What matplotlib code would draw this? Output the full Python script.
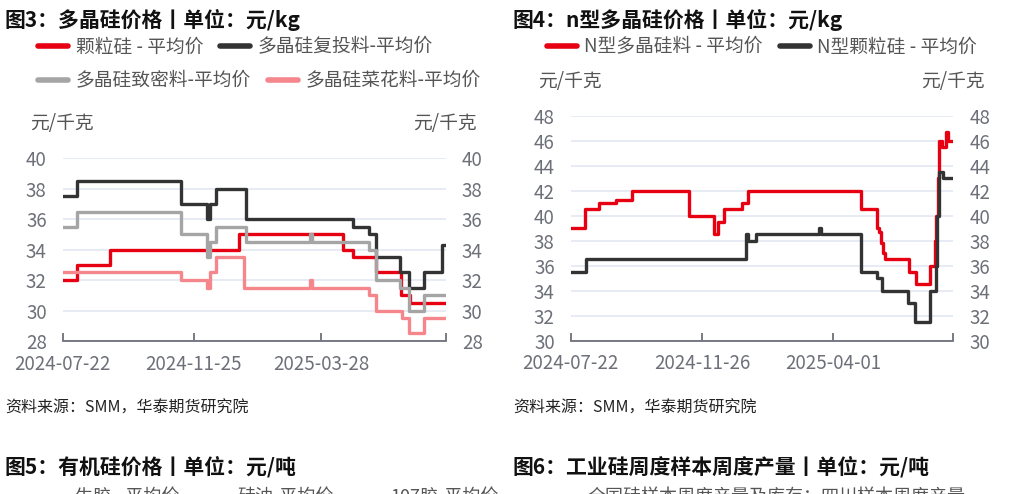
import matplotlib
matplotlib.use('Agg')
import matplotlib.pyplot as plt
import matplotlib.dates as mdates
import pandas as pd

plt.rcParams['font.family'] = ['Noto Sans CJK SC', 'DejaVu Sans']

# ---- 图3 多晶硅价格 (元/kg), step data: date where a new price starts ----
end_date_3 = '2025-07-26'
granular_dates = ['2024-07-22', '2024-08-05', '2024-09-06', '2025-01-08', '2025-04-18',
                  '2025-04-27', '2025-05-20', '2025-06-13', '2025-06-21']
granular_vals = [32, 33, 34, 35, 34, 33.5, 32.5, 31, 30.5]

recharge_dates = ['2024-07-22', '2024-08-05', '2024-11-13', '2024-12-08', '2024-12-11',
                  '2024-12-17', '2025-01-14', '2025-04-27', '2025-05-13', '2025-05-20',
                  '2025-06-12', '2025-06-20', '2025-07-05', '2025-07-22']
recharge_vals = [37.5, 38.5, 37, 36, 37, 38, 36, 35.5, 35, 33.5, 32.5, 31.5, 32.5, 34.3]

dense_dates = ['2024-07-22', '2024-08-05', '2024-11-13', '2024-12-08', '2024-12-11',
               '2024-12-17', '2025-01-14', '2025-03-17', '2025-03-19', '2025-05-13',
               '2025-05-20', '2025-06-12', '2025-06-20', '2025-07-05']
dense_vals = [35.5, 36.5, 35, 33.5, 34.5, 35.5, 34.5, 35, 34.5, 34, 32, 31.5, 30, 31]

cauliflower_dates = ['2024-07-22', '2024-11-13', '2024-12-08', '2024-12-11', '2024-12-17',
                     '2025-01-13', '2025-03-17', '2025-03-19', '2025-05-13', '2025-05-20',
                     '2025-06-14', '2025-06-20', '2025-07-05']
cauliflower_vals = [32.5, 32, 31.5, 32.5, 33.5, 31.5, 32, 31.5, 31, 30, 29.5, 28.5, 29.5]

ticks_3 = ['2024-07-22', '2024-11-25', '2025-03-28']

# ---- 图4 n型多晶硅价格 (元/kg) ----
end_date_4 = '2025-07-26'
n_poly_dates = ['2024-07-22', '2024-08-05', '2024-08-18', '2024-09-04', '2024-09-19',
                '2024-11-13', '2024-12-07', '2024-12-11', '2024-12-17', '2025-01-03',
                '2025-01-09', '2025-04-28', '2025-05-13', '2025-05-15', '2025-05-17',
                '2025-05-19', '2025-05-21', '2025-06-13', '2025-06-20', '2025-07-04',
                '2025-07-08', '2025-07-09', '2025-07-11', '2025-07-12', '2025-07-15',
                '2025-07-19', '2025-07-21']
n_poly_vals = [39, 40.5, 41, 41.25, 42, 40, 38.5, 39.5, 40.5, 41, 42, 40.5, 39, 38.7, 37.8,
               37, 36.5, 35.5, 34.5, 36, 38, 40, 43, 46, 45.5, 46.7, 46]

n_gran_dates = ['2024-07-22', '2024-08-06', '2025-01-07', '2025-01-09', '2025-01-17',
                '2025-03-18', '2025-03-20', '2025-04-28', '2025-05-13', '2025-05-18',
                '2025-06-12', '2025-06-19', '2025-07-04', '2025-07-09', '2025-07-10',
                '2025-07-12', '2025-07-16']
n_gran_vals = [35.5, 36.5, 38.5, 38, 38.5, 39, 38.5, 35.5, 35, 34, 33, 31.5, 34, 36, 40,
               43.5, 43]

ticks_4 = ['2024-07-22', '2024-11-26', '2025-04-01']

TICK_COLOR = '#6E7079'
GRID_COLOR = '#E0E6F1'
LW = 2.4


def step_series(dates, vals, end):
    x = pd.to_datetime(dates + [end])
    y = vals + [vals[-1]]
    return x, y


def style_axis(ax, start, end, ticks, ylim, ystep):
    ax.set_xlim(pd.Timestamp(start), pd.Timestamp(end))
    ax.set_ylim(*ylim)
    ax.set_yticks(range(ylim[0], ylim[1] + 1, ystep))
    ax.grid(axis='y', color=GRID_COLOR, lw=1.1)
    ax.set_axisbelow(True)
    for s in ['top', 'left', 'right']:
        ax.spines[s].set_visible(False)
    ax.spines['bottom'].set_color(TICK_COLOR)
    ax.spines['bottom'].set_linewidth(1.3)
    ax.set_xticks(pd.to_datetime(ticks))
    ax.xaxis.set_major_formatter(mdates.DateFormatter('%Y-%m-%d'))
    ax.set_xticks([pd.Timestamp(end)], minor=True)
    ax.tick_params(axis='x', which='both', direction='in', length=6, width=1.3,
                   color=TICK_COLOR, labelcolor=TICK_COLOR, labelsize=13.5, pad=9)
    ax.tick_params(axis='y', left=False, right=False, labelleft=True, labelright=True,
                   labelcolor=TICK_COLOR, labelsize=13.5, pad=8)


fig = plt.figure(figsize=(10.26, 4.94), dpi=100)
W, H = 1026, 494

# ----- left chart -----
ax1 = fig.add_axes([62.7 / W, 1 - 341 / H, (446 - 62.7) / W, (341 - 158.3) / H])
l1, = ax1.plot(*step_series(granular_dates, granular_vals, end_date_3), drawstyle='steps-post',
               color='#E60012', lw=LW, label='颗粒硅 - 平均价')
l2, = ax1.plot(*step_series(recharge_dates, recharge_vals, end_date_3), drawstyle='steps-post',
               color='#333333', lw=LW, label='多晶硅复投料-平均价')
l3, = ax1.plot(*step_series(dense_dates, dense_vals, end_date_3), drawstyle='steps-post',
               color='#A5A5A5', lw=LW, label='多晶硅致密料-平均价')
l4, = ax1.plot(*step_series(cauliflower_dates, cauliflower_vals, end_date_3), drawstyle='steps-post',
               color='#F4868C', lw=LW, label='多晶硅菜花料-平均价')
style_axis(ax1, '2024-07-22', end_date_3, ticks_3, (28, 40), 2)

# ----- right chart -----
ax2 = fig.add_axes([570.7 / W, 1 - 340.7 / H, (953.3 - 570.7) / W, (340.7 - 115.7) / H])
r1, = ax2.plot(*step_series(n_poly_dates, n_poly_vals, end_date_4), drawstyle='steps-post',
               color='#E60012', lw=LW, label='N型多晶硅料 - 平均价')
r2, = ax2.plot(*step_series(n_gran_dates, n_gran_vals, end_date_4), drawstyle='steps-post',
               color='#333333', lw=LW, label='N型颗粒硅 - 平均价')
style_axis(ax2, '2024-07-22', end_date_4, ticks_4, (30, 48), 2)

# legends (one per row, rows are not column-aligned in the original)
leg_kw = dict(loc='center left', frameon=False, fontsize=13.5, handlelength=1.6,
              handletextpad=0.4, columnspacing=0.9, borderpad=0, borderaxespad=0,
              labelcolor='#555555')
for handles, pos in [([l1, l2], (38, 47)), ([l3, l4], (38, 81)), ([r1, r2], (547, 47))]:
    lg = fig.legend(handles=handles, ncol=len(handles),
                    bbox_to_anchor=(pos[0] / W, 1 - pos[1] / H), **leg_kw)
    for h in lg.legend_handles:
        h.set_linewidth(4)
        h.set_solid_capstyle('round')

# titles and notes
title_kw = dict(fontsize=15, fontweight='bold', color='#111111', va='center', ha='left')
fig.text(5 / W, 1 - 20 / H, '图3：多晶硅价格丨单位：元/kg', **title_kw)
fig.text(513 / W, 1 - 20 / H, '图4：n型多晶硅价格丨单位：元/kg', **title_kw)
fig.text(5 / W, 1 - 467 / H, '图5：有机硅价格丨单位：元/吨', **title_kw)
fig.text(513 / W, 1 - 467 / H, '图6：工业硅周度样本周度产量丨单位：元/吨', **title_kw)

unit_kw = dict(fontsize=13.5, color='#555555', va='center')
fig.text(30 / W, 1 - 123 / H, '元/千克', ha='left', **unit_kw)
fig.text(477 / W, 1 - 123 / H, '元/千克', ha='right', **unit_kw)
fig.text(538 / W, 1 - 82 / H, '元/千克', ha='left', **unit_kw)
fig.text(985 / W, 1 - 82 / H, '元/千克', ha='right', **unit_kw)

src_kw = dict(fontsize=11.5, style='italic', color='#222222', va='center', ha='left')
fig.text(5 / W, 1 - 408 / H, '资料来源：SMM，华泰期货研究院', **src_kw)
fig.text(513 / W, 1 - 408 / H, '资料来源：SMM，华泰期货研究院', **src_kw)

# next charts' legends, cut off by the page edge
cut_kw = dict(fontsize=13, color='#555555', va='center', ha='left')
fig.text(75 / W, 1 - 497 / H, '生胶 - 平均价', **cut_kw)
fig.text(237 / W, 1 - 497 / H, '硅油-平均价', **cut_kw)
fig.text(390 / W, 1 - 497 / H, '107胶-平均价', **cut_kw)
fig.text(588 / W, 1 - 497 / H, '全国硅样本周度产量及库存：四川样本周度产量', **cut_kw)

fig.savefig('out.png', dpi=100)
